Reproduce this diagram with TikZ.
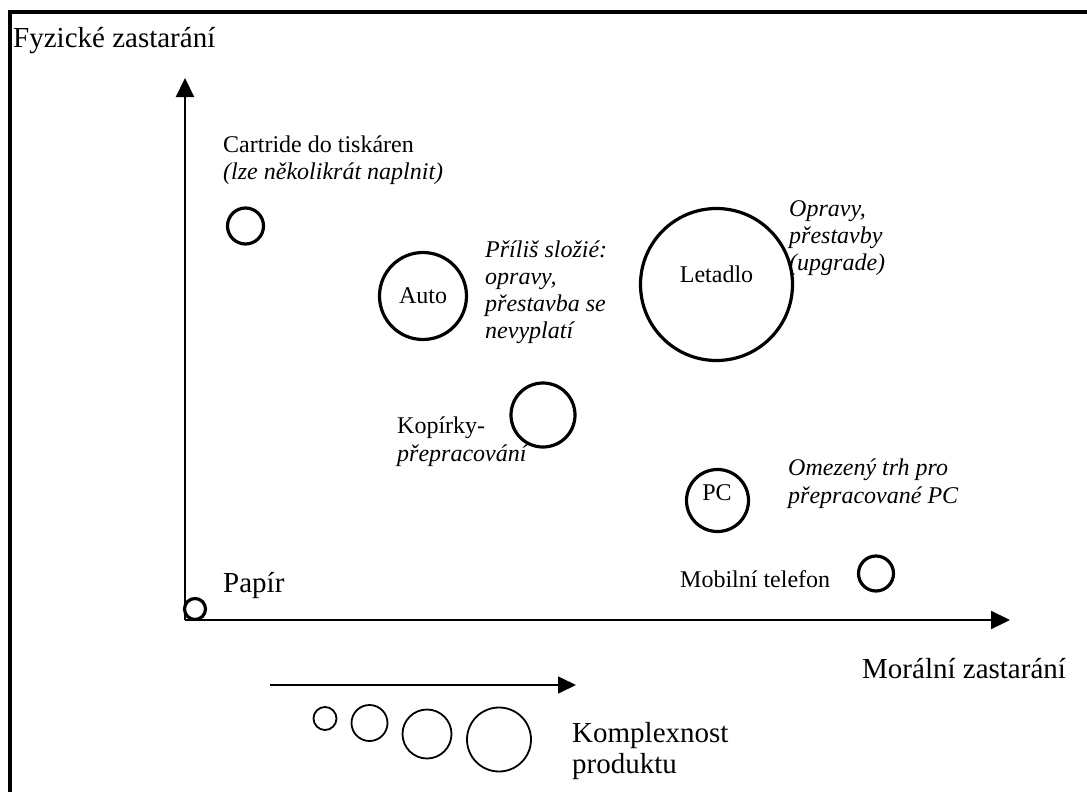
\documentclass[tikz,border=0pt]{standalone}
\usepackage{fontspec}
\setmainfont{Liberation Serif}
\usetikzlibrary{arrows.meta}
\begin{document}
\begin{tikzpicture}[x=1pt,y=-1pt,
  frameline/.style={line width=3.2pt},
  axisline/.style={line width=2.2pt,-{Triangle[length=19pt,width=18pt]}},
  keyline/.style={line width=1.6pt,-{Triangle[length=18pt,width=17pt]}},
  product/.style={draw,circle,line width=3.2pt,inner sep=0pt},
  keycirc/.style={draw,circle,line width=1.8pt,inner sep=0pt},
  big/.style={inner sep=0pt,anchor=base west,font=\fontsize{29}{31}\selectfont},
  small/.style={inner sep=0pt,anchor=base west,font=\fontsize{24}{27}\selectfont},
  smallc/.style={inner sep=0pt,anchor=base,font=\fontsize{24}{27}\selectfont},
  note/.style={inner sep=0pt,anchor=base west,font=\fontsize{24}{27}\selectfont\itshape}]
\useasboundingbox (0,0) rectangle (1087,792);

% outer frame (left and top edges)
\coordinate (fbl) at (10,800);
\coordinate (ftr) at (1095,12);
\draw[frameline] (fbl) |- (ftr);

% axes
\coordinate (O) at (185,620);
\coordinate (ytip) at (185,78);
\coordinate (xtip) at (1010,620);
\draw[axisline] (O) -- (ytip);
\draw[axisline] (O) -- (xtip);
\node[big] (ylab) at (13,48) {Fyzické zastarání};
\node[big] (xlab) at (862,678) {Morální zastarání};

% products
\node[product,minimum size=21pt] (papir) at (195,609) {};
\node[big] (papirlab) at (223,592) {Papír};

\node[product,minimum size=36pt] (cart) at (245.5,226) {};
\node[small] (cartlab) at (223,152) {Cartride do tiskáren};
\node[note] (cartnote) at (223,179) {(lze několikrát naplnit)};

\node[product,minimum size=87pt] (auto) at (423,296) {};
\node[smallc] (autolab) at (423,303) {Auto};
\node[note,align=left,anchor=north west,text depth=0pt] (autonote) at (485,241)
  {Příliš složié:\\opravy,\\přestavba se\\nevyplatí};

\node[product,minimum size=152pt] (letadlo) at (716.5,284.5) {};
\node[smallc] (letlab) at (716.5,282) {Letadlo};
\node[note,align=left,anchor=north west] (letnote) at (789,200)
  {Opravy,\\přestavby\\(upgrade)};

\node[product,minimum size=64pt] (kopir) at (543,415) {};
\node[small] (kopirlab) at (397,433) {Kopírky-};
\node[note] (kopirnote) at (397,461) {přepracování};

\node[product,minimum size=62pt] (pc) at (717.5,500.5) {};
\node[smallc] (pclab) at (717,500) {PC};
\node[note] (pcnote1) at (788,475) {Omezený trh pro};
\node[note] (pcnote2) at (788,503) {přepracované PC};

\node[product,minimum size=35pt] (mobil) at (876,573.5) {};
\node[small] (mobillab) at (680,587) {Mobilní telefon};

% complexity key
\coordinate (ks) at (270,685);
\coordinate (ke) at (576,685);
\draw[keyline] (ks) -- (ke);
\node[keycirc,minimum size=23pt] (k1) at (325,718.5) {};
\node[keycirc,minimum size=36pt] (k2) at (369.5,723) {};
\node[keycirc,minimum size=49pt] (k3) at (427,734) {};
\node[keycirc,minimum size=64pt] (k4) at (499,739.5) {};
\node[big] (klab1) at (572,742) {Komplexnost};
\node[big] (klab2) at (572,773) {produktu};
\end{tikzpicture}
\end{document}
